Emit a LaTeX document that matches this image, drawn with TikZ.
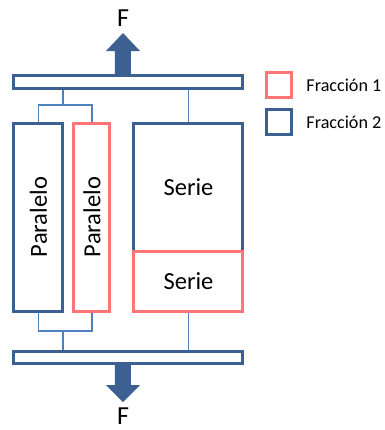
\documentclass[tikz,border=0pt]{standalone}
\usepackage{fontspec}
\setmainfont{Carlito}
\definecolor{fracblue}{RGB}{59,96,145}
\definecolor{fracred}{RGB}{255,117,120}
\definecolor{linkblue}{RGB}{79,129,189}
\tikzset{every picture/.style={line width=0.75pt}}
\tikzset{
	bluebox/.style={draw=fracblue, fill=white, line width=2.25pt, inner sep=0pt},
	redbox/.style={draw=fracred, fill=white, line width=2.25pt, inner sep=0pt},
	bar/.style={draw=fracblue, fill=white, line width=2.25pt, inner sep=0pt, minimum width=171.75pt},
	link/.style={draw=linkblue, line width=1.1pt},
	bigtext/.style={font=\fontsize{18.4}{22}\selectfont},
	legtext/.style={font=\fontsize{13.6}{16}\selectfont, anchor=west, inner sep=0pt}
}

\begin{document}
\begin{tikzpicture}[x=0.75pt,y=0.75pt,yscale=-1,xscale=1]
	\useasboundingbox (0,0) rectangle (385,430);
	
	%Coordinates for the joins
	\coordinate (tj) at (63,105);
	\coordinate (bj) at (63,331);
	
	%Shape: Bars [id:bars]
	\node [bar, minimum height=9.75pt] (topbar) at (128.5,81.5) {};
	\node [bar, minimum height=9pt] (botbar) at (128.5,357) {};
	
	%Shape: Rectangles [id:boxes]
	\node [bluebox, minimum width=36.75pt, minimum height=141pt, bigtext] (par1) at (38.5,217) {\rotatebox{90}{Paralelo}};
	\node [redbox, minimum width=27pt, minimum height=141pt, bigtext] (par2) at (92,217) {\rotatebox{90}{Paralelo}};
	\node [bluebox, minimum width=81.75pt, minimum height=96pt, bigtext] (serie1) at (188.5,187) {Serie};
	\node [redbox, minimum width=81.75pt, minimum height=45pt, bigtext] (serie2) at (188.5,281) {Serie};
	
	%Straight Lines [id:links]
	\draw [link] (par1.north) -- (par1.north |- tj) -- (par2.north |- tj) -- (par2.north) ;
	\draw [link] (tj) -- (topbar.south -| tj) ;
	\draw [link] (serie1.north) -- (topbar.south -| serie1.north) ;
	\draw [link] (par1.south) -- (par1.south |- bj) -- (par2.south |- bj) -- (par2.south) ;
	\draw [link] (bj) -- (botbar.north -| bj) ;
	\draw [link] (serie2.south) -- (botbar.north -| serie2.south) ;
	
	%Shape: Arrows [id:forces]
	\fill [fracblue] (115,75) -- (115,51) -- (106,51) -- (123,33) -- (140,51) -- (131,51) -- (131,75) -- cycle ;
	\fill [fracblue] (115,363) -- (115,385) -- (106,385) -- (123,402) -- (140,385) -- (131,385) -- (131,363) -- cycle ;
	
	% Text Node
	\node [font=\fontsize{19.5}{23}\selectfont, inner sep=0pt] (ftop) at (123,18) {F};
	% Text Node
	\node [font=\fontsize{19.5}{23}\selectfont, inner sep=0pt] (fbot) at (123,416.5) {F};
	
	%Legend
	\node [redbox, minimum width=18.75pt, minimum height=18.75pt] (leg1) at (279.5,84.8) {};
	\node [bluebox, minimum width=18.75pt, minimum height=18.75pt] (leg2) at (279.5,122) {};
	% Text Node
	\node [legtext] (legtext1) at (306,85.5) {Fracción 1};
	% Text Node
	\node [legtext] (legtext2) at (306,122.5) {Fracción 2};
	
\end{tikzpicture}
\end{document}
